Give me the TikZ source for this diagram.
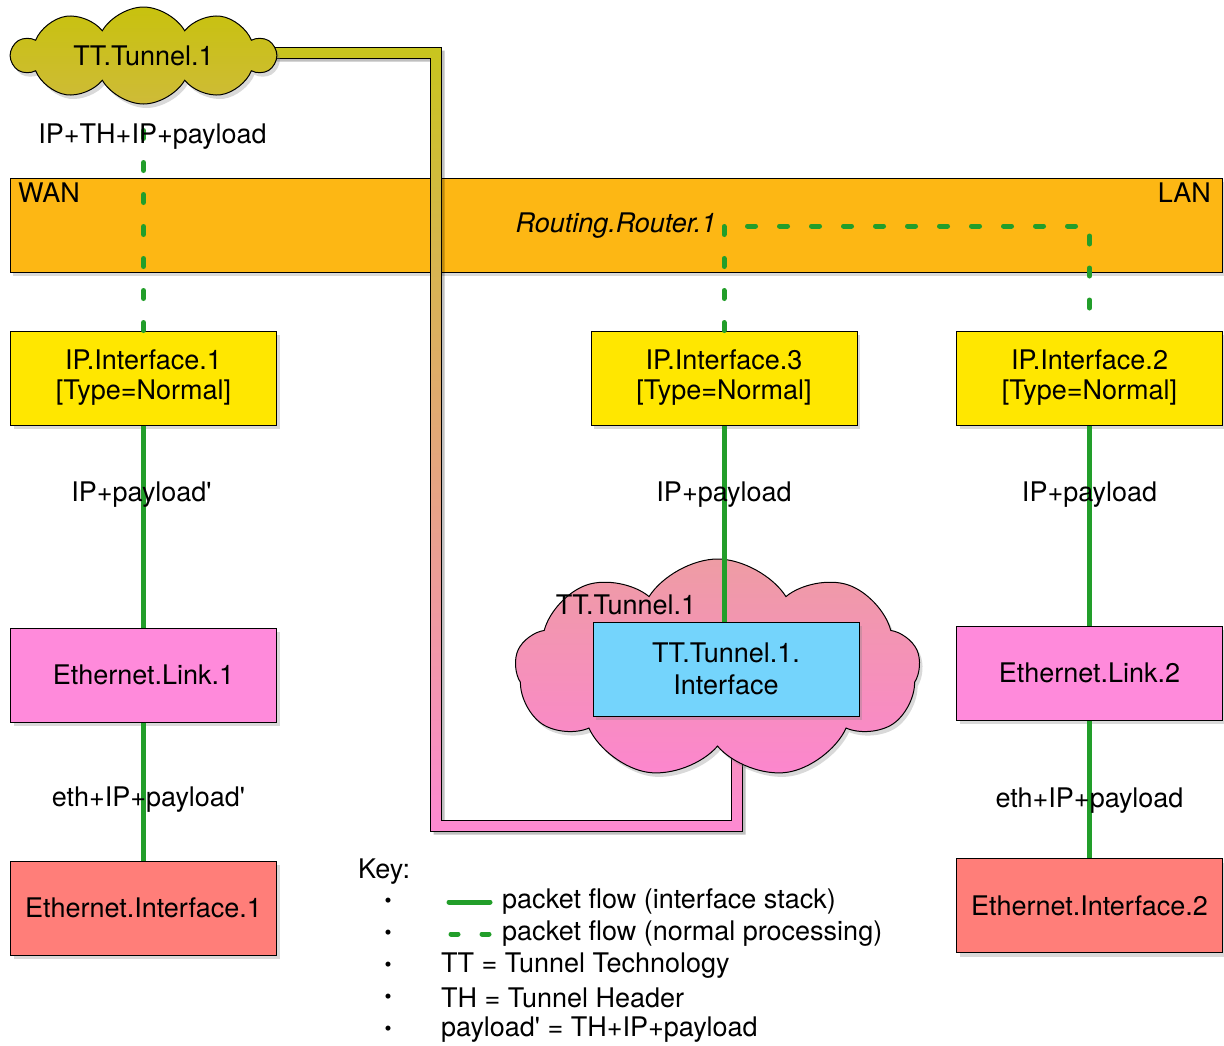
\documentclass[tikz,border=0pt]{standalone}
\usepackage{fontspec}
\setmainfont{TeX Gyre Heros}
\usetikzlibrary{shapes.symbols,shadows}
\definecolor{barC}{HTML}{FDB714}
\definecolor{ipC}{HTML}{FFE700}
\definecolor{linkC}{HTML}{FF8ADB}
\definecolor{ethC}{HTML}{FF7E79}
\definecolor{ttiC}{HTML}{74D4FC}
\definecolor{flowC}{HTML}{229E2A}
\definecolor{tcTop}{HTML}{C8C20E}
\definecolor{tcBot}{HTML}{CEBB38}
\definecolor{bcTop}{HTML}{EE9CA4}
\definecolor{bcBot}{HTML}{FC86CE}
\definecolor{pipeTop}{HTML}{C8C51E}
\definecolor{pipeBot}{HTML}{FD8AD2}
\newcommand\myfs{\fontsize{27}{32}\selectfont}
\newcommand\sq{\textquotesingle}
\begin{document}
\begin{tikzpicture}[x=1pt,y=-1pt,
  every node/.style={font=\myfs, text=black},
  shadowed/.style={drop shadow={shadow xshift=3pt, shadow yshift=-4pt, opacity=0.3}},
  box/.style={draw=black, line width=1pt, minimum width=266pt, minimum height=94pt,
              align=center, inner sep=0pt, shadowed},
  flow/.style={draw=flowC, line width=5pt},
  nflow/.style={draw=flowC, line width=5pt, line cap=round, dash pattern=on 8pt off 24pt},
  lbl/.style={inner sep=1pt, yshift=-3pt},
  keytxt/.style={anchor=west, inner sep=0pt},
  bul/.style={inner sep=0pt, font=\fontsize{20}{22}\selectfont}
]
\useasboundingbox (0,0) rectangle (1224,1045);

% WAN/LAN bar
\node[box, fill=barC, minimum width=1212pt] (bar) at (616,225) {};
\node[anchor=west, inner sep=0pt] (wan) at (18,193) {WAN};
\node[anchor=east, inner sep=0pt] (lan) at (1211,193) {LAN};
\node[inner sep=0pt, font=\myfs\itshape] (rr) at (616,226) {Routing.Router.1};

% tunnel pipe
\fill[black, opacity=0.25] (258,50.5) -- (444.5,50.5) -- (444.5,823.5) -- (734.5,823.5) -- (734.5,740) -- (745.5,740) -- (745.5,834.5) -- (433.5,834.5) -- (433.5,61.5) -- (258,61.5) -- cycle;
\shade[top color=pipeTop, bottom color=pipeBot, draw=black, line width=1pt]
  (255,47.5) -- (441.5,47.5) -- (441.5,820.5) -- (731.5,820.5) -- (731.5,730) -- (742.5,730) -- (742.5,831.5) -- (430.5,831.5) -- (430.5,58.5) -- (255,58.5) -- cycle;

% clouds
\node[cloud, cloud puffs=10, cloud puff arc=120, cloud ignores aspect, draw=black, line width=1pt,
      top color=tcTop, bottom color=tcBot, minimum width=263pt, minimum height=97pt, inner sep=0pt, shadowed]
      (tc) at (143.5,55.5) {TT.Tunnel.1};
\node[cloud, cloud puffs=9, cloud puff arc=115, cloud ignores aspect, draw=black, line width=1pt,
      top color=bcTop, bottom color=bcBot, minimum width=405pt, minimum height=220pt, inner sep=0pt, shadowed]
      (bc) at (717.5,669) {};
\node[inner sep=0pt] (bclabel) at (626,605) {TT.Tunnel.1};

% boxes
\node[box, fill=ipC] (ip1) at (143.5,378) {\raisebox{-2pt}{IP.Interface.1}\\{}[Type=Normal]};
\node[box, fill=ipC] (ip3) at (724,378) {\raisebox{-2pt}{IP.Interface.3}\\{}[Type=Normal]};
\node[box, fill=ipC] (ip2) at (1089.5,378) {\raisebox{-2pt}{IP.Interface.2}\\{}[Type=Normal]};
\node[box, fill=linkC] (el1) at (143.5,675) {Ethernet.Link.1};
\node[box, fill=linkC] (el2) at (1089.5,673) {Ethernet.Link.2};
\node[box, fill=ethC] (ei1) at (143.5,908) {Ethernet.Interface.1};
\node[box, fill=ethC] (ei2) at (1089.5,905.5) {Ethernet.Interface.2};
\node[box, fill=ttiC] (tti) at (726,669) {TT.Tunnel.1.\\Interface};

% packet flows (normal processing)
\draw[nflow] (tc.south) ++(0,14) coordinate (tcs) (ip1.north) -- (ip1.north |- tcs)
   node[lbl, pos=0.93, xshift=9pt] (l0) {IP+TH+IP+payload};
\draw[nflow] (ip3.north) -- (ip3.north |- rr.east) -- (ip2.north |- rr.east) -- (ip2.north);

% packet flows (interface stack)
\draw[flow] (ip1.south) -- node[lbl, pos=0.325, xshift=-2pt] (l1) {IP+payload\sq} (el1.north);
\draw[flow] (el1.south) -- node[lbl, pos=0.54, xshift=5pt] (l2) {eth+IP+payload\sq} (ei1.north);
\draw[flow] (ip3.south) -- node[lbl, pos=0.335] (l3) {IP+payload} (ip3.south |- tti.north);
\draw[flow] (ip2.south) -- node[lbl, pos=0.328] (l4) {IP+payload} (el2.north);
\draw[flow] (el2.south) -- node[lbl, pos=0.558] (l5) {eth+IP+payload} (ei2.north);

% key
\node[keytxt] (key) at (358,872) {Key:};
\foreach \i/\y in {1/903,2/935,3/967,4/999,5/1031}{
  \node[bul] (b\i) at (388,\y) {\textbullet};
}
\coordinate (k1a) at (449,902); \coordinate (k1b) at (490,902);
\draw[flowC, line width=5pt, line cap=round] (k1a) -- (k1b);
\coordinate (k2a) at (451,934); \coordinate (k2b) at (490,934);
\draw[flowC, line width=5pt, line cap=round, dash pattern=on 7pt off 24pt] (k2a) -- (k2b);
\node[keytxt] (t1) at (502,902) {packet flow (interface stack)};
\node[keytxt] (t2) at (502,934) {packet flow (normal processing)};
\node[keytxt] (t3) at (441,966) {TT = Tunnel Technology};
\node[keytxt] (t4) at (441,998) {TH = Tunnel Header};
\node[keytxt] (t5) at (441,1030) {payload\sq{} = TH+IP+payload};
\end{tikzpicture}
\end{document}
